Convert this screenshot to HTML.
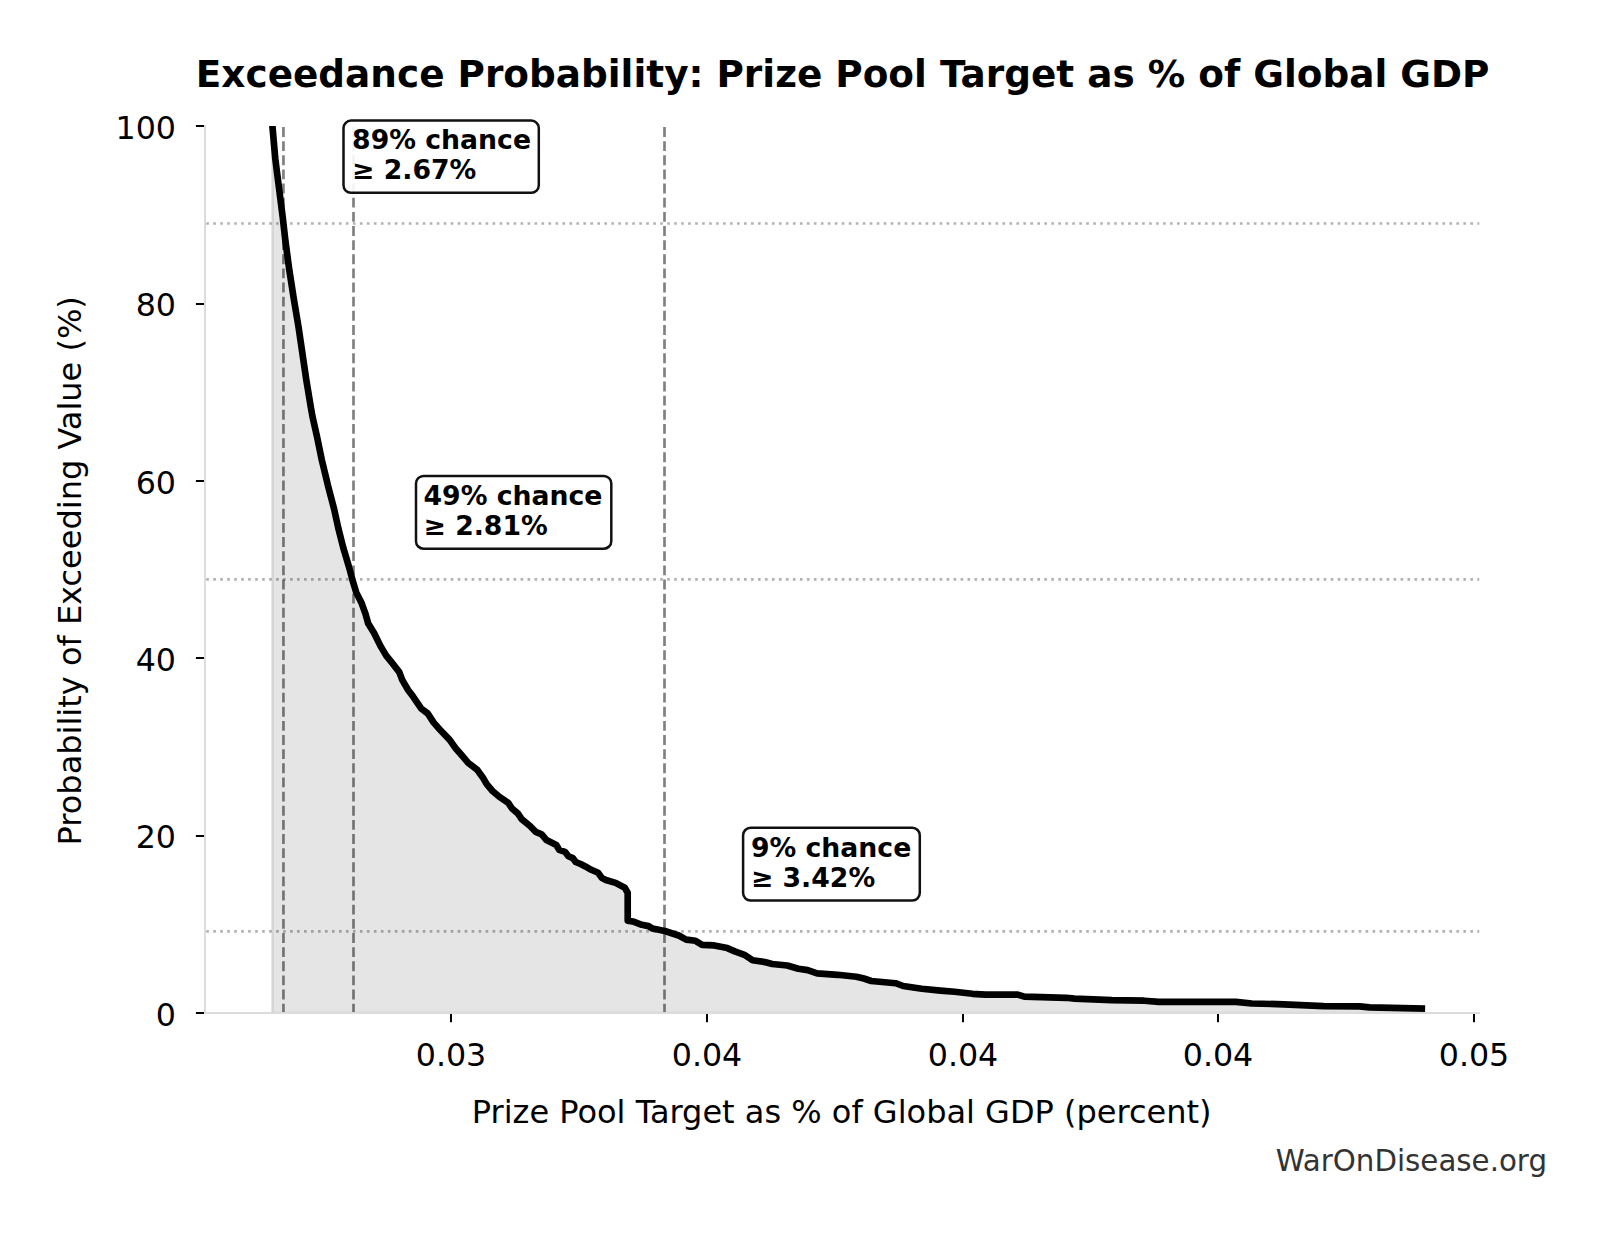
<!DOCTYPE html>
<html lang="en"><head><meta charset="utf-8"><title>Exceedance Probability: Prize Pool Target as % of Global GDP</title>
<style>
html,body{margin:0;padding:0;background:#fff;}
body{width:1604px;height:1234px;overflow:hidden;}
svg{display:block;}
text{font-family:"DejaVu Sans","Liberation Sans",sans-serif;fill:#000;}
.b{font-weight:bold;}
</style></head><body>
<svg width="1604" height="1234" viewBox="0 0 1604 1234">
<rect width="1604" height="1234" fill="#fff"/>
<defs><clipPath id="ax"><rect x="205.0" y="126.0" width="1275.0" height="887.0"/></clipPath></defs>

<g clip-path="url(#ax)"><path d="M272.4,1013.0 L272.4,119.0 L272.4,126.0 L275.3,158.9 L279.0,188.1 L282.7,217.2 L285.3,240.0 L289.2,269.2 L293.7,298.3 L298.6,327.5 L301.9,350.0 L306.2,379.2 L311.0,408.3 L312.8,418.1 L317.2,437.5 L321.8,460.0 L326.5,479.4 L327.9,485.3 L334.0,508.6 L338.3,528.1 L343.2,547.5 L349.0,567.0 L352.4,579.7 L356.2,592.4 L361.6,603.1 L365.5,613.8 L368.2,623.5 L374.2,633.2 L380.4,645.9 L386.2,655.6 L392.5,663.4 L399.3,672.1 L402.2,679.9 L408.1,690.0 L412.4,695.6 L421.3,708.6 L427.8,713.5 L433.5,722.4 L440.0,729.7 L449.7,739.9 L455.6,748.2 L462.4,756.0 L468.2,762.8 L477.0,769.6 L482.8,777.4 L486.7,784.2 L492.5,791.0 L499.3,796.8 L508.1,802.7 L512.0,808.5 L517.8,813.4 L521.7,819.2 L530.0,826.0 L535.8,831.9 L541.7,834.3 L546.5,840.1 L556.3,845.0 L559.2,849.9 L565.0,851.8 L568.4,856.2 L572.8,858.1 L575.7,862.0 L580.6,864.0 L585.4,866.4 L591.3,869.8 L598.1,872.7 L602.0,878.1 L605.9,880.0 L615.6,882.9 L624.8,887.8 L627.7,892.7 L627.7,920.6 L634.1,921.8 L641.8,924.8 L648.6,926.1 L652.6,928.6 L664.8,931.0 L678.7,935.5 L686.2,939.6 L695.5,940.8 L702.1,944.9 L714.2,945.4 L727.3,948.1 L734.8,951.4 L745.1,955.2 L752.6,960.2 L764.7,962.1 L772.2,964.0 L787.2,965.5 L798.4,968.8 L807.7,970.1 L817.1,973.3 L837.7,974.8 L856.4,976.7 L863.9,978.5 L871.3,981.0 L895.6,983.2 L903.1,986.0 L921.8,988.8 L940.5,990.6 L954.6,991.8 L972.4,993.8 L985.4,994.6 L1017.8,994.6 L1024.3,996.7 L1066.4,997.8 L1074.5,998.6 L1111.8,1000.2 L1144.2,1000.7 L1158.8,1001.9 L1235.9,1001.9 L1251.8,1003.5 L1283.7,1004.3 L1323.6,1006.2 L1359.6,1006.4 L1369.5,1007.4 L1421.8,1008.5 L1421.8,1013.0 Z" fill="#000" fill-opacity="0.1" stroke="#000" stroke-opacity="0.1" stroke-width="2.67" stroke-linejoin="round"/></g>
<line x1="205.0" x2="1479.3" y1="223.5" y2="223.5" stroke="#000" stroke-opacity="0.3" stroke-width="2.67" stroke-dasharray="2.66 4.324" stroke-dashoffset="5.744"/>
<line x1="205.0" x2="1479.3" y1="579.45" y2="579.45" stroke="#000" stroke-opacity="0.3" stroke-width="2.67" stroke-dasharray="2.66 4.324" stroke-dashoffset="5.744"/>
<line x1="205.0" x2="1479.3" y1="931.3" y2="931.3" stroke="#000" stroke-opacity="0.3" stroke-width="2.67" stroke-dasharray="2.66 4.324" stroke-dashoffset="5.744"/>
<line x1="283.45" x2="283.45" y1="1013.6" y2="126.4" stroke="#000" stroke-opacity="0.5" stroke-width="2.67" stroke-dasharray="9.87 4.27"/>
<line x1="353.5" x2="353.5" y1="1013.6" y2="126.4" stroke="#000" stroke-opacity="0.5" stroke-width="2.67" stroke-dasharray="9.87 4.27"/>
<line x1="664.5" x2="664.5" y1="1013.6" y2="126.4" stroke="#000" stroke-opacity="0.5" stroke-width="2.67" stroke-dasharray="9.87 4.27"/>
<g clip-path="url(#ax)"><path d="M272.4,119.0 L272.4,126.0 L275.3,158.9 L279.0,188.1 L282.7,217.2 L285.3,240.0 L289.2,269.2 L293.7,298.3 L298.6,327.5 L301.9,350.0 L306.2,379.2 L311.0,408.3 L312.8,418.1 L317.2,437.5 L321.8,460.0 L326.5,479.4 L327.9,485.3 L334.0,508.6 L338.3,528.1 L343.2,547.5 L349.0,567.0 L352.4,579.7 L356.2,592.4 L361.6,603.1 L365.5,613.8 L368.2,623.5 L374.2,633.2 L380.4,645.9 L386.2,655.6 L392.5,663.4 L399.3,672.1 L402.2,679.9 L408.1,690.0 L412.4,695.6 L421.3,708.6 L427.8,713.5 L433.5,722.4 L440.0,729.7 L449.7,739.9 L455.6,748.2 L462.4,756.0 L468.2,762.8 L477.0,769.6 L482.8,777.4 L486.7,784.2 L492.5,791.0 L499.3,796.8 L508.1,802.7 L512.0,808.5 L517.8,813.4 L521.7,819.2 L530.0,826.0 L535.8,831.9 L541.7,834.3 L546.5,840.1 L556.3,845.0 L559.2,849.9 L565.0,851.8 L568.4,856.2 L572.8,858.1 L575.7,862.0 L580.6,864.0 L585.4,866.4 L591.3,869.8 L598.1,872.7 L602.0,878.1 L605.9,880.0 L615.6,882.9 L624.8,887.8 L627.7,892.7 L627.7,920.6 L634.1,921.8 L641.8,924.8 L648.6,926.1 L652.6,928.6 L664.8,931.0 L678.7,935.5 L686.2,939.6 L695.5,940.8 L702.1,944.9 L714.2,945.4 L727.3,948.1 L734.8,951.4 L745.1,955.2 L752.6,960.2 L764.7,962.1 L772.2,964.0 L787.2,965.5 L798.4,968.8 L807.7,970.1 L817.1,973.3 L837.7,974.8 L856.4,976.7 L863.9,978.5 L871.3,981.0 L895.6,983.2 L903.1,986.0 L921.8,988.8 L940.5,990.6 L954.6,991.8 L972.4,993.8 L985.4,994.6 L1017.8,994.6 L1024.3,996.7 L1066.4,997.8 L1074.5,998.6 L1111.8,1000.2 L1144.2,1000.7 L1158.8,1001.9 L1235.9,1001.9 L1251.8,1003.5 L1283.7,1004.3 L1323.6,1006.2 L1359.6,1006.4 L1369.5,1007.4 L1421.8,1008.5" fill="none" stroke="#000" stroke-width="6.67" stroke-linejoin="round" stroke-linecap="square"/></g>
<rect x="204" y="125" width="2" height="889" fill="#dcdcdc"/><rect x="204" y="1012" width="1276" height="2" fill="#dcdcdc"/>
<rect x="450" y="1014" width="2" height="8.2" fill="#000"/>
<text x="451.0" y="1065.6" font-size="31.7" text-anchor="middle">0.03</text>
<rect x="706" y="1014" width="2" height="8.2" fill="#000"/>
<text x="707.0" y="1065.6" font-size="31.7" text-anchor="middle">0.04</text>
<rect x="962" y="1014" width="2" height="8.2" fill="#000"/>
<text x="963.0" y="1065.6" font-size="31.7" text-anchor="middle">0.04</text>
<rect x="1217" y="1014" width="2" height="8.2" fill="#000"/>
<text x="1218.0" y="1065.6" font-size="31.7" text-anchor="middle">0.04</text>
<rect x="1473" y="1014" width="2" height="8.2" fill="#000"/>
<text x="1474.0" y="1065.6" font-size="31.7" text-anchor="middle">0.05</text>
<rect x="195.9" y="1012" width="8.1" height="2" fill="#000"/>
<text x="176.0" y="1025.8" font-size="31.7" text-anchor="end">0</text>
<rect x="195.9" y="835" width="8.1" height="2" fill="#000"/>
<text x="176.0" y="848.4" font-size="31.7" text-anchor="end">20</text>
<rect x="195.9" y="657" width="8.1" height="2" fill="#000"/>
<text x="176.0" y="671.0" font-size="31.7" text-anchor="end">40</text>
<rect x="195.9" y="480" width="8.1" height="2" fill="#000"/>
<text x="176.0" y="493.6" font-size="31.7" text-anchor="end">60</text>
<rect x="195.9" y="303" width="8.1" height="2" fill="#000"/>
<text x="176.0" y="316.2" font-size="31.7" text-anchor="end">80</text>
<rect x="195.9" y="125" width="8.1" height="2" fill="#000"/>
<text x="176.0" y="138.8" font-size="31.7" text-anchor="end">100</text>
<text x="842.6" y="87.1" font-size="37.4" text-anchor="middle" class="b">Exceedance Probability: Prize Pool Target as % of Global GDP</text>
<text x="841.7" y="1122.9" font-size="32.0" text-anchor="middle">Prize Pool Target as % of Global GDP (percent)</text>
<text transform="translate(81.2,570.8) rotate(-90)" font-size="32.0" text-anchor="middle">Probability of Exceeding Value (%)</text>
<text x="1547" y="1170.9" font-size="29.3" text-anchor="end" style="fill:#333">WarOnDisease.org</text>
<rect x="343.5" y="120.6" width="195.3" height="72.2" rx="7.5" ry="7.5" fill="#fff" fill-opacity="0.9" stroke="#111" stroke-width="2.5"/>
<text x="352.1" y="149.0" font-size="26.7" class="b">89% chance</text>
<text x="352.1" y="178.7" font-size="26.7" class="b">≥ 2.67%</text>
<rect x="416.0" y="476.0" width="195.3" height="72.7" rx="7.5" ry="7.5" fill="#fff" fill-opacity="0.9" stroke="#111" stroke-width="2.5"/>
<text x="423.5" y="504.7" font-size="26.7" class="b">49% chance</text>
<text x="423.5" y="534.9" font-size="26.7" class="b">≥ 2.81%</text>
<rect x="743.1" y="827.8" width="176.7" height="72.8" rx="7.5" ry="7.5" fill="#fff" fill-opacity="0.9" stroke="#111" stroke-width="2.5"/>
<text x="750.9" y="856.6" font-size="26.7" class="b">9% chance</text>
<text x="750.9" y="887.0" font-size="26.7" class="b">≥ 3.42%</text>
</svg></body></html>
